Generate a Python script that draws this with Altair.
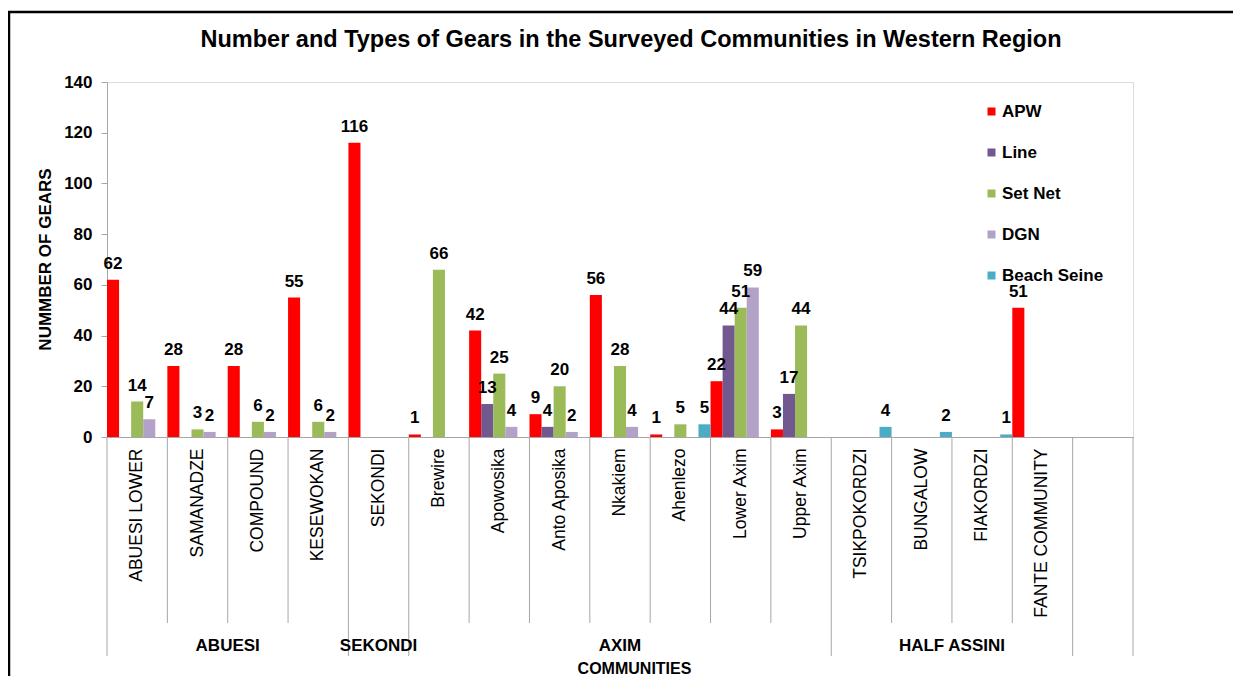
import altair as alt
import pandas as pd

# ---------------- data ----------------
communities = ["ABUESI LOWER", "SAMANADZE", "COMPOUND", "KESEWOKAN", "SEKONDI",
               "Brewire", "Apowosika", "Anto Aposika", "Nkakiem", "Ahenlezo",
               "Lower Axim", "Upper Axim", "TSIKPOKORDZI", "BUNGALOW", "FIAKORDZI",
               "FANTE COMMUNITY"]
blank_slot = " "
series = ["APW", "Line", "Set Net", "DGN", "Beach Seine"]
apw = [62, 28, 28, 55, 116, 1, 42, 9, 56, 1, 22, 3, 0, 0, 0, 51]
line = [0, 0, 0, 0, 0, 0, 13, 4, 0, 0, 44, 17, 0, 0, 0, 0]
set_net = [14, 3, 6, 6, 0, 66, 25, 20, 28, 5, 51, 44, 0, 0, 0, 0]
dgn = [7, 2, 2, 2, 0, 0, 4, 2, 4, 0, 59, 0, 0, 0, 0, 0]
beach_seine = [0, 0, 0, 0, 0, 0, 0, 0, 0, 5, 0, 0, 4, 2, 1, 0]
colors = ["#FF0000", "#71588F", "#9BBB59", "#B3A2C7", "#4BACC6"]
groups = ["ABUESI", "SEKONDI", "AXIM", "HALF ASSINI"]
group_sizes = [4, 1, 7, 4]
y_ticks = [0, 20, 40, 60, 80, 100, 120, 140]
title_text = "Number and Types of Gears in the Surveyed Communities in Western Region"

FONT = "Liberation Sans"
W, H = 1026, 355
GRAY = "#A6A6A6"

slots = communities + [blank_slot]
values = {"APW": apw, "Line": line, "Set Net": set_net, "DGN": dgn, "Beach Seine": beach_seine}
rows = []
for s in series:
    for c, v in zip(communities, values[s]):
        if v:
            rows.append({"community": c, "series": s, "value": v})
bars_df = pd.DataFrame(rows)

# separators
n_slots = len(slots)
group_bounds = [0]
for g in group_sizes:
    group_bounds.append(group_bounds[-1] + g)
long_bounds = sorted(set(group_bounds + [n_slots]))
short_bounds = [i for i in range(n_slots + 1) if i not in long_bounds]
long_df = pd.DataFrame({"pos": long_bounds})
short_df = pd.DataFrame({"pos": short_bounds})
grp_df = pd.DataFrame({"group": groups,
                       "center": [group_bounds[i] + group_sizes[i] / 2 for i in range(len(groups))]})

band_scale = alt.Scale(domain=slots, paddingInner=0, paddingOuter=0)
x_band = alt.X("community:N", scale=band_scale,
               axis=alt.Axis(title="COMMUNITIES", labelAngle=-90, labelFontSize=17.5,
                             labelFont=FONT, labelColor="black", labelPadding=11,
                             labelLimit=300, ticks=False, domainColor=GRAY,
                             titleFont=FONT, titleFontSize=16, titleFontWeight="bold",
                             titleColor="black", titleX=527, titleY=231,
                             titleBaseline="middle"))
x_band_noaxis = alt.X("community:N", scale=band_scale, axis=None)
x_off = alt.XOffset("series:N", scale=alt.Scale(domain=series, paddingInner=0, paddingOuter=0))
y_enc = alt.Y("value:Q",
              scale=alt.Scale(domain=[0, 140], nice=False),
              axis=alt.Axis(values=y_ticks, grid=False, title="NUMMBER OF GEARS",
                            labelFont=FONT, labelFontSize=17, labelFontWeight="bold",
                            labelColor="black", labelPadding=9, tickSize=6,
                            tickColor=GRAY, domainColor=GRAY,
                            titleFont=FONT, titleFontSize=17, titleFontWeight="bold",
                            titleColor="black", titleAngle=-90, titleX=-62, titleY=177,
                            titleBaseline="middle", titleAlign="center"))

bars = alt.Chart(bars_df).mark_bar().encode(
    x=x_band, xOffset=x_off, y=y_enc,
    color=alt.Color("series:N", scale=alt.Scale(domain=series, range=colors),
                    legend=alt.Legend(orient="none", legendX=876, legendY=21, title=None,
                                      symbolType="square", symbolSize=64,
                                      symbolStrokeWidth=0, labelFont=FONT,
                                      labelFontSize=17, labelFontWeight="bold",
                                      labelColor="black", rowPadding=23, labelOffset=2))
)

labels = alt.Chart(bars_df).mark_text(dy=-11, baseline="alphabetic", fontSize=17,
                                      fontWeight="bold", font=FONT, color="black").encode(
    x=x_band_noaxis, xOffset=x_off, y=y_enc, text="value:Q")

lin_scale = alt.Scale(domain=[0, n_slots], nice=False, zero=True)

seps_long = alt.Chart(long_df).mark_rule(color=GRAY, strokeWidth=1).encode(
    x=alt.X("pos:Q", scale=lin_scale, axis=None),
    y=alt.value(H), y2=alt.value(H + 219))
seps_short = alt.Chart(short_df).mark_rule(color=GRAY, strokeWidth=1).encode(
    x=alt.X("pos:Q", scale=lin_scale, axis=None),
    y=alt.value(H), y2=alt.value(H + 186))

grp_labels = alt.Chart(grp_df).mark_text(font=FONT, fontSize=17, fontWeight="bold",
                                         color="black", baseline="alphabetic").encode(
    x=alt.X("center:Q", scale=lin_scale, axis=None),
    y=alt.value(H + 214),
    text="group:N",
)

one = pd.DataFrame({"t": [title_text]})
title = alt.Chart(one).mark_text(font=FONT, fontSize=23.5, fontWeight="bold", color="black",
                                 baseline="alphabetic", align="center").encode(
    x=alt.value(524), y=alt.value(-35), text="t:N")

frame = alt.Chart(one).mark_rect(fillOpacity=0, stroke="black", strokeWidth=2.5).encode(
    x=alt.value(-98), x2=alt.value(1300), y=alt.value(-70), y2=alt.value(800))

chart = alt.layer(seps_long, seps_short, bars, labels, grp_labels, title, frame).resolve_scale(
    x="independent"
).properties(
    width=W, height=H,
    autosize=alt.AutoSizeParams(type="none"),
    padding={"left": 99, "top": 74, "right": 100, "bottom": 239},
).configure_view(strokeWidth=0).configure(background="white")

chart.save("out.html", embed_options={"renderer": "svg", "actions": False})
